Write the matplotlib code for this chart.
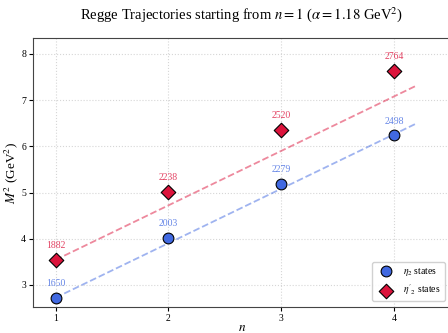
import numpy as np
import matplotlib
matplotlib.use('Agg')
import matplotlib.pyplot as plt

plt.rcParams['font.family'] = ['Liberation Serif', 'DejaVu Serif']
plt.rcParams['mathtext.fontset'] = 'stix'

#==============================================================================#
#                               Data (masses in MeV)
#==============================================================================#
n = np.array([1, 2, 3, 4])
eta2_masses = np.array([1650, 2003, 2279, 2498])
eta2p_masses = np.array([1882, 2238, 2520, 2764])
alpha = 1.18  # GeV^2

eta2_m2 = (eta2_masses / 1000.0) ** 2
eta2p_m2 = (eta2p_masses / 1000.0) ** 2

blue = 'royalblue'
red = 'crimson'

fig = plt.figure(figsize=(4.48, 3.33), dpi=100)
ax = fig.add_axes([0.0737, 0.078, 0.932, 0.807])

# trajectories M^2 = M_1^2 + alpha (n - 1)
n_fit = np.linspace(1, 4.2, 50)
ax.plot(n_fit, eta2_m2[0] + alpha * (n_fit - 1), '--', color=blue, alpha=0.5, lw=1.3)
ax.plot(n_fit, eta2p_m2[0] + alpha * (n_fit - 1), '--', color=red, alpha=0.5, lw=1.3)

ax.scatter(n, eta2_m2, s=60, c=blue, edgecolors='black', linewidths=0.8,
           zorder=5, label=r'$\eta_2$ states')
ax.scatter(n, eta2p_m2, s=55, c=red, marker='D', edgecolors='black', linewidths=0.8,
           zorder=5, label=r"$\eta'_2$ states")

for xi, yi, m in zip(n, eta2_m2, eta2_masses):
    ax.annotate('%d' % m, (xi, yi), xytext=(0, 7), textcoords='offset points',
                ha='center', va='bottom', fontsize=7, color=blue, alpha=0.8)
for xi, yi, m in zip(n, eta2p_m2, eta2p_masses):
    ax.annotate('%d' % m, (xi, yi), xytext=(0, 7), textcoords='offset points',
                ha='center', va='bottom', fontsize=7, color=red, alpha=0.8)

ax.set_xlim(0.8, 4.5)
ax.set_ylim(2.52, 8.34)
ax.set_xticks([1, 2, 3, 4])
ax.set_yticks([3, 4, 5, 6, 7, 8])
ax.tick_params(labelsize=7, length=3, pad=2)
ax.grid(True, linestyle=':', color='#cccccc', alpha=0.8)
for s in ax.spines.values():
    s.set_color('#444444')
ax.spines['right'].set_visible(False)

ax.set_xlabel(r'$n$', fontsize=9.5)
ax.set_ylabel(r'$M^2$ (GeV$^2$)', fontsize=9.5)
ax.yaxis.set_label_coords(-0.031, 0.5)
ax.xaxis.set_label_coords(0.5, -0.056)
ax.set_title(r'Regge Trajectories starting from $n=1$ ($\alpha=1.18$ GeV$^2$)',
             fontsize=10.5, pad=14)
ax.legend(loc='lower right', fontsize=7, framealpha=0.9, borderaxespad=0.6)

plt.savefig('out.png', dpi=100)
